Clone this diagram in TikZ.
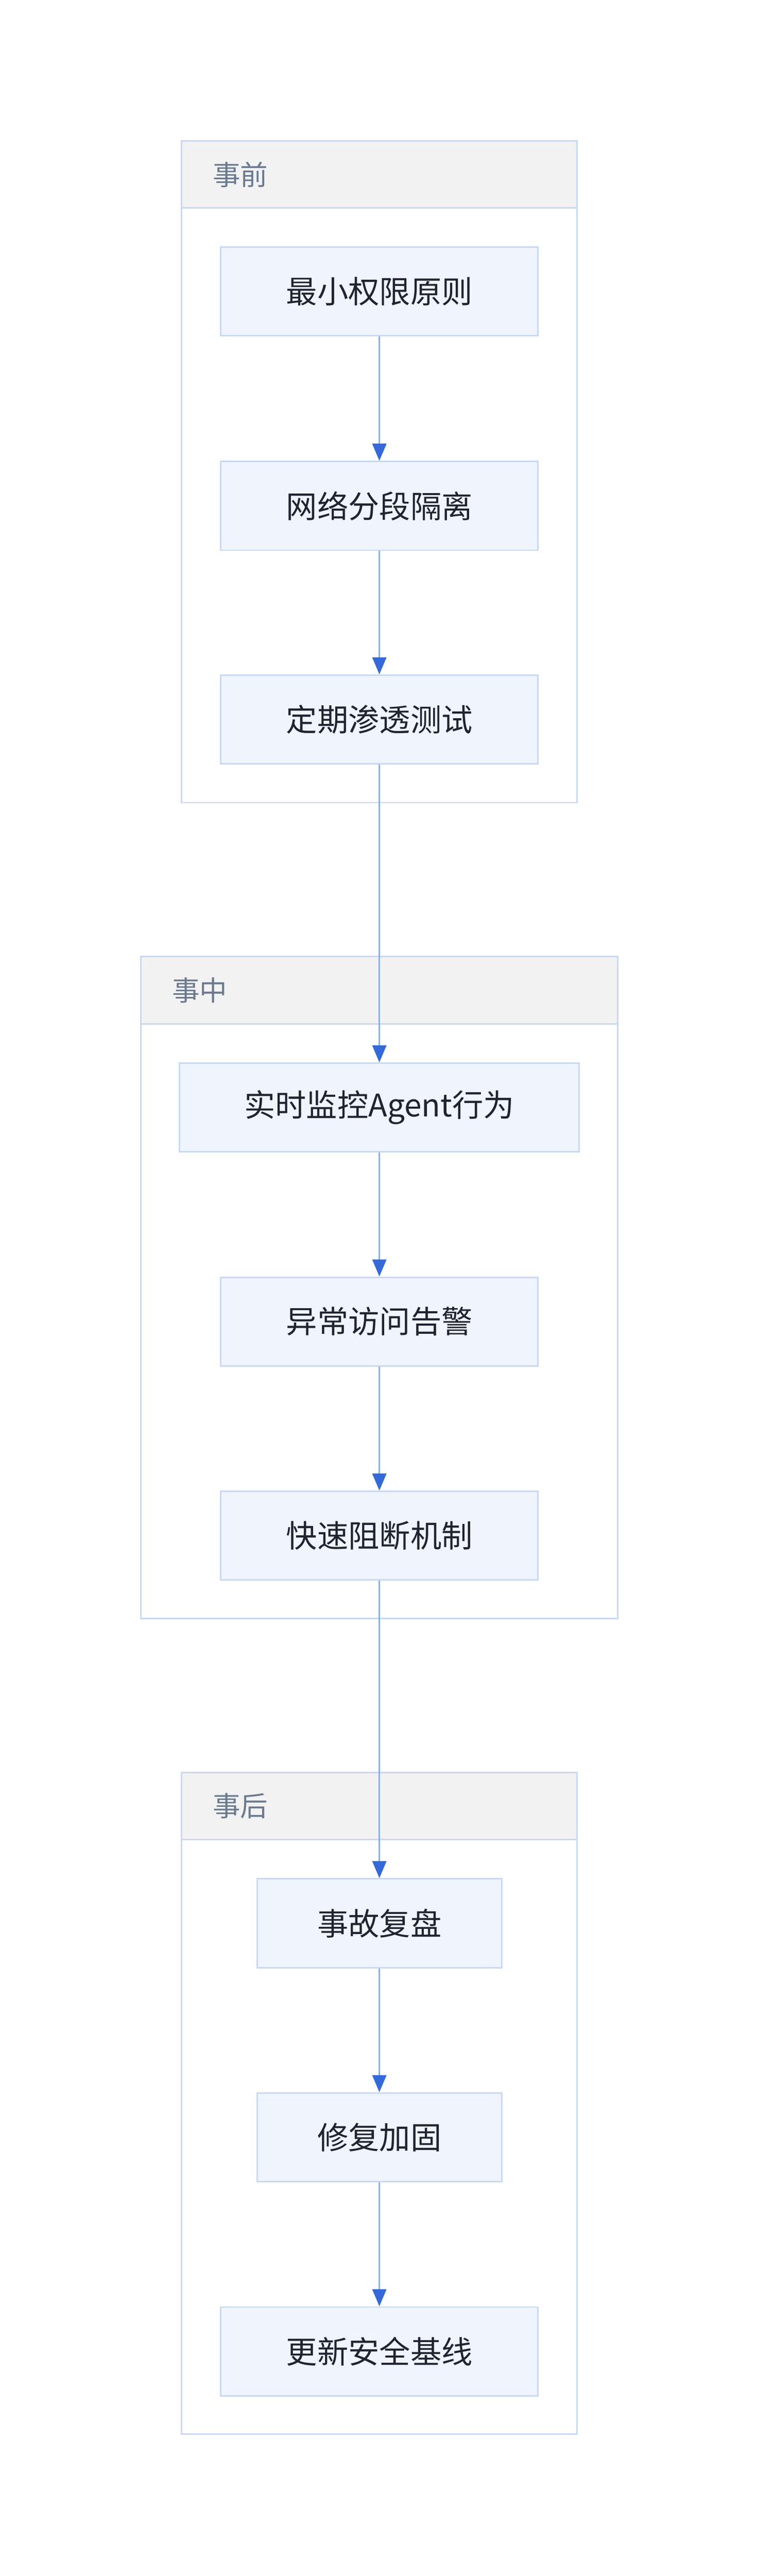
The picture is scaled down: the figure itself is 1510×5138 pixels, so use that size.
\documentclass[tikz,border=0pt]{standalone}
\usepackage{fontspec}
\setmainfont{Noto Sans CJK SC}
\usetikzlibrary{positioning,arrows.meta}
\definecolor{boxfill}{HTML}{EFF4FD}
\definecolor{boxline}{HTML}{C9D9F3}
\definecolor{headfill}{HTML}{F2F2F2}
\definecolor{headtext}{HTML}{6B7A90}
\definecolor{flowline}{HTML}{8AAEEA}
\definecolor{flowtip}{HTML}{3569D9}
\definecolor{ink}{HTML}{1F2430}
\tikzset{
  stepbox/.style={draw=boxline, line width=1.5pt, fill=boxfill, minimum height=88.5pt, inner sep=0pt, font=\fontsize{31}{36}\selectfont, text=ink},
  flow/.style={draw=flowline, line width=1.5pt, -{Triangle[length=17pt,width=14pt,color=flowtip]}},
  group/.style={draw=boxline, line width=1.5pt},
  grouphead/.style={draw=boxline, line width=1.5pt, fill=headfill},
  grouplabel/.style={anchor=west, inner sep=0pt, text=headtext, font=\fontsize{27.5}{32}\selectfont}
}
\begin{document}
\begin{tikzpicture}[x=0.5pt,y=-0.5pt]
		\useasboundingbox (0,0) rectangle (1510,5138);

		% groups
		\draw[grouphead] (362,281) rectangle (1151,415);
		\draw[group] (362,415) rectangle (1151,1601);
		\node[grouplabel] (before) at (424,348) {事前};

		\draw[grouphead] (281,1908) rectangle (1233,2042);
		\draw[group] (281,2042) rectangle (1233,3228);
		\node[grouplabel] (during) at (343,1975) {事中};

		\draw[grouphead] (362,3535) rectangle (1151,3669);
		\draw[group] (362,3669) rectangle (1151,4855);
		\node[grouplabel] (after) at (424,3602) {事后};

		% steps
		\node[stepbox, minimum width=316.5pt] (leastpriv) at (757,581) {最小权限原则};
		\node[stepbox, minimum width=316.5pt] (segment) at (757,1009) {网络分段隔离};
		\node[stepbox, minimum width=316.5pt] (pentest) at (757,1435) {定期渗透测试};
		\node[stepbox, minimum width=398.5pt] (monitor) at (757,2209) {实时监控Agent行为};
		\node[stepbox, minimum width=316.5pt] (alert) at (757,2636) {异常访问告警};
		\node[stepbox, minimum width=316.5pt] (block) at (757,3063) {快速阻断机制};
		\node[stepbox, minimum width=244pt] (review) at (757,3836) {事故复盘};
		\node[stepbox, minimum width=244pt] (harden) at (757,4263) {修复加固};
		\node[stepbox, minimum width=316.5pt] (baseline) at (757,4690) {更新安全基线};

		\draw[flow] (leastpriv) -- (segment);
		\draw[flow] (segment) -- (pentest);
		\draw[flow] (pentest) -- (monitor);
		\draw[flow] (monitor) -- (alert);
		\draw[flow] (alert) -- (block);
		\draw[flow] (block) -- (review);
		\draw[flow] (review) -- (harden);
		\draw[flow] (harden) -- (baseline);
	\end{tikzpicture}
\end{document}
